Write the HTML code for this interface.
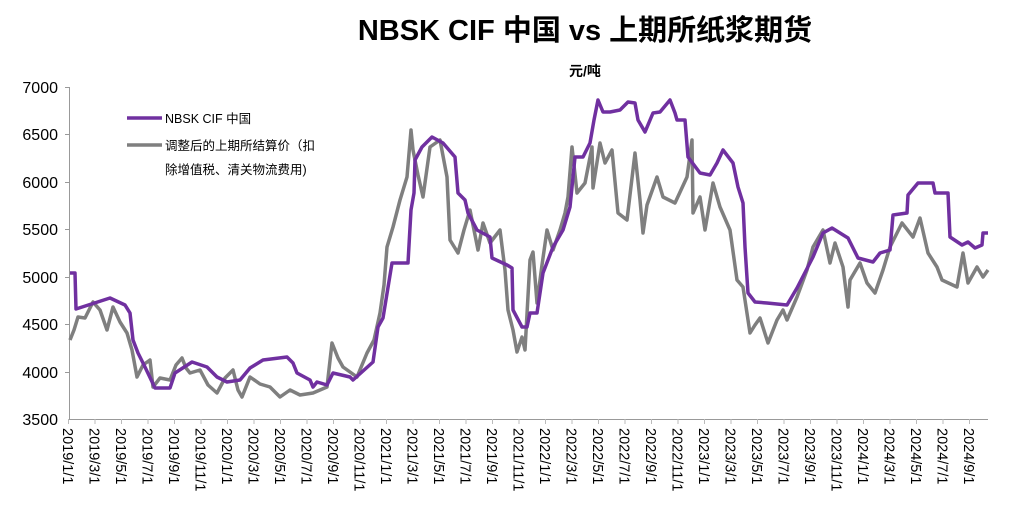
<!DOCTYPE html>
<html><head><meta charset="utf-8"><style>
body{margin:0;background:#fff;font-family:"Liberation Sans","Noto Sans CJK SC",sans-serif;}
</style></head><body>
<svg width="1024" height="515" xmlns="http://www.w3.org/2000/svg" font-family="Liberation Sans, Noto Sans CJK SC, sans-serif">
<text x="585" y="40" font-size="29" font-weight="bold" text-anchor="middle">NBSK CIF 中国 vs 上期所纸浆期货</text>
<text x="585" y="76" font-size="14" font-weight="bold" text-anchor="middle">元/吨</text>
<g font-size="16" text-anchor="end" fill="#000">
<text x="58" y="93">7000</text><text x="58" y="140">6500</text><text x="58" y="188">6000</text>
<text x="58" y="235">5500</text><text x="58" y="283">5000</text><text x="58" y="330">4500</text>
<text x="58" y="378">4000</text><text x="58" y="425">3500</text>
</g>
<g stroke="#999" stroke-width="1">
<line x1="69.5" y1="87" x2="69.5" y2="419"/><line x1="69" y1="419.5" x2="988" y2="419.5"/>
<line x1="65" y1="87.5" x2="70" y2="87.5"/><line x1="65" y1="134.5" x2="70" y2="134.5"/><line x1="65" y1="182.5" x2="70" y2="182.5"/><line x1="65" y1="229.5" x2="70" y2="229.5"/><line x1="65" y1="277.5" x2="70" y2="277.5"/><line x1="65" y1="324.5" x2="70" y2="324.5"/><line x1="65" y1="372.5" x2="70" y2="372.5"/>
</g>
<g stroke="#999" id="tk"></g>
<g font-size="14.5">
<text transform="translate(63,428) rotate(90)">2019/1/1</text>
<text transform="translate(89.5,428) rotate(90)">2019/3/1</text>
<text transform="translate(116,428) rotate(90)">2019/5/1</text>
<text transform="translate(142.5,428) rotate(90)">2019/7/1</text>
<text transform="translate(169,428) rotate(90)">2019/9/1</text>
<text transform="translate(195.5,428) rotate(90)">2019/11/1</text>
<text transform="translate(222,428) rotate(90)">2020/1/1</text>
<text transform="translate(248.5,428) rotate(90)">2020/3/1</text>
<text transform="translate(275,428) rotate(90)">2020/5/1</text>
<text transform="translate(301.5,428) rotate(90)">2020/7/1</text>
<text transform="translate(328,428) rotate(90)">2020/9/1</text>
<text transform="translate(354.5,428) rotate(90)">2020/11/1</text>
<text transform="translate(381,428) rotate(90)">2021/1/1</text>
<text transform="translate(407.5,428) rotate(90)">2021/3/1</text>
<text transform="translate(434,428) rotate(90)">2021/5/1</text>
<text transform="translate(460.5,428) rotate(90)">2021/7/1</text>
<text transform="translate(487,428) rotate(90)">2021/9/1</text>
<text transform="translate(513.5,428) rotate(90)">2021/11/1</text>
<text transform="translate(540,428) rotate(90)">2022/1/1</text>
<text transform="translate(566.5,428) rotate(90)">2022/3/1</text>
<text transform="translate(593,428) rotate(90)">2022/5/1</text>
<text transform="translate(619.5,428) rotate(90)">2022/7/1</text>
<text transform="translate(646,428) rotate(90)">2022/9/1</text>
<text transform="translate(672.5,428) rotate(90)">2022/11/1</text>
<text transform="translate(699,428) rotate(90)">2023/1/1</text>
<text transform="translate(725.5,428) rotate(90)">2023/3/1</text>
<text transform="translate(752,428) rotate(90)">2023/5/1</text>
<text transform="translate(778.5,428) rotate(90)">2023/7/1</text>
<text transform="translate(805,428) rotate(90)">2023/9/1</text>
<text transform="translate(831.5,428) rotate(90)">2023/11/1</text>
<text transform="translate(858,428) rotate(90)">2024/1/1</text>
<text transform="translate(884.5,428) rotate(90)">2024/3/1</text>
<text transform="translate(911,428) rotate(90)">2024/5/1</text>
<text transform="translate(937.5,428) rotate(90)">2024/7/1</text>
<text transform="translate(964,428) rotate(90)">2024/9/1</text>
</g>
<g stroke="#bbb" stroke-width="1">
<line x1="68.5" y1="419" x2="68.5" y2="424"/><line x1="95" y1="419" x2="95" y2="424"/><line x1="121.5" y1="419" x2="121.5" y2="424"/><line x1="148" y1="419" x2="148" y2="424"/><line x1="174.5" y1="419" x2="174.5" y2="424"/><line x1="201" y1="419" x2="201" y2="424"/><line x1="227.5" y1="419" x2="227.5" y2="424"/><line x1="254" y1="419" x2="254" y2="424"/><line x1="280.5" y1="419" x2="280.5" y2="424"/><line x1="307" y1="419" x2="307" y2="424"/><line x1="333.5" y1="419" x2="333.5" y2="424"/><line x1="360" y1="419" x2="360" y2="424"/><line x1="386.5" y1="419" x2="386.5" y2="424"/><line x1="413" y1="419" x2="413" y2="424"/><line x1="439.5" y1="419" x2="439.5" y2="424"/><line x1="466" y1="419" x2="466" y2="424"/><line x1="492.5" y1="419" x2="492.5" y2="424"/><line x1="519" y1="419" x2="519" y2="424"/><line x1="545.5" y1="419" x2="545.5" y2="424"/><line x1="572" y1="419" x2="572" y2="424"/><line x1="598.5" y1="419" x2="598.5" y2="424"/><line x1="625" y1="419" x2="625" y2="424"/><line x1="651.5" y1="419" x2="651.5" y2="424"/><line x1="678" y1="419" x2="678" y2="424"/><line x1="704.5" y1="419" x2="704.5" y2="424"/><line x1="731" y1="419" x2="731" y2="424"/><line x1="757.5" y1="419" x2="757.5" y2="424"/><line x1="784" y1="419" x2="784" y2="424"/><line x1="810.5" y1="419" x2="810.5" y2="424"/><line x1="837" y1="419" x2="837" y2="424"/><line x1="863.5" y1="419" x2="863.5" y2="424"/><line x1="890" y1="419" x2="890" y2="424"/><line x1="916.5" y1="419" x2="916.5" y2="424"/><line x1="943" y1="419" x2="943" y2="424"/><line x1="969.5" y1="419" x2="969.5" y2="424"/>
</g>
<polyline fill="none" stroke="#7f7f7f" stroke-width="3.5" stroke-linejoin="round" points="70,340 74,330 78,317 85,318 93,302 100,310 107,330 113,307 120,322 127,333 132,350 137,377 143,365 150,360 153,387 160,378 170,380 176,365 182,358 186,368 190,373 200,370 208,385 217,393 225,378 233,370 238,390 242,397 250,377 260,384 270,387 280,397 290,390 300,395 313,393 320,390 327,387 332,343 338,358 343,367 350,372 357,377 367,353 374,340 380,313 384,285 387,247 393,227 400,200 407,177 411,130 413,150 418,175 423,197 430,147 440,140 447,177 450,240 458,253 464,230 470,210 478,250 483,223 490,243 500,230 505,270 508,310 513,330 517,352 522,337 525,350 530,260 533,252 537,303 542,265 547,230 553,250 560,230 565,213 568,197 572,147 577,193 585,183 592,147 593,188 600,143 605,163 612,150 618,213 627,220 635,153 640,200 643,233 647,205 657,177 663,197 675,203 687,177 692,140 693,213 700,197 705,230 713,183 720,207 730,230 737,280 743,287 750,333 755,325 760,318 768,343 777,320 783,310 787,320 797,297 807,270 813,247 823,230 830,263 835,243 843,267 848,307 850,280 860,263 867,283 875,293 883,270 890,247 902,223 913,237 920,218 928,253 937,267 942,280 957,287 963,253 968,283 977,267 983,277 988,270"/>
<polyline fill="none" stroke="#7030a0" stroke-width="3.5" stroke-linejoin="round" points="70,273 75,273 76,309 110,298 125,305 130,313 133,340 138,353 145,367 155,388 170,388 175,373 192,362 207,367 217,377 227,382 240,380 250,368 263,360 287,357 293,363 297,373 310,380 313,387 317,382 327,385 333,373 350,377 353,380 373,362 378,327 383,318 392,263 408,263 411,210 414,193 415,160 422,147 432,137 443,143 455,157 458,193 465,200 468,213 477,230 490,237 492,258 507,265 512,268 513,310 522,327 527,327 530,313 537,313 543,273 553,247 563,230 570,207 575,157 583,157 590,143 594,120 598,100 603,112 610,112 620,110 628,102 635,103 638,120 645,132 653,113 660,112 670,100 675,113 677,120 685,120 688,157 700,173 710,175 717,163 723,150 733,163 738,187 743,203 745,247 748,293 755,302 767,303 787,305 797,288 813,257 823,233 832,228 840,233 848,238 858,258 873,262 880,253 890,250 893,215 907,213 908,195 918,183 933,183 935,193 948,193 950,237 962,245 968,242 975,248 982,245 983,233 988,233"/>
<line x1="127" y1="118" x2="162" y2="118" stroke="#7030a0" stroke-width="3.5"/>
<line x1="127" y1="145" x2="162" y2="145" stroke="#7f7f7f" stroke-width="3.5"/>
<g font-size="12.5"><text x="165" y="123">NBSK CIF 中国</text>
<text x="165" y="150">调整后的上期所结算价（扣</text>
<text x="165" y="174">除增值税、清关物流费用)</text></g>
</svg>
</body></html>
